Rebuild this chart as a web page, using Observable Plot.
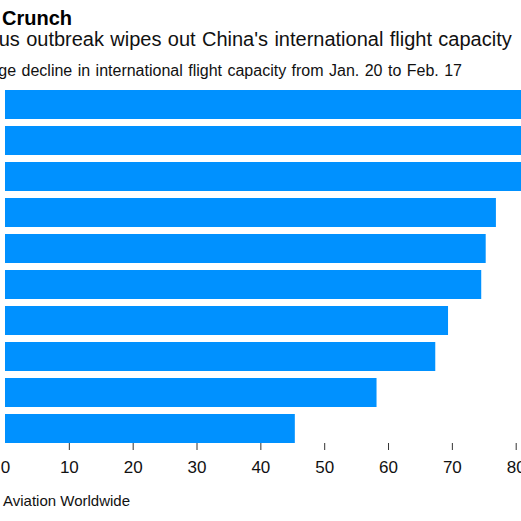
<!DOCTYPE html>
<html>
<head>
<meta charset="utf-8">
<script src="https://cdn.jsdelivr.net/npm/d3@7"></script>
<script src="https://cdn.jsdelivr.net/npm/@observablehq/plot@0.6"></script>
<style>
  html, body { margin: 0; padding: 0; background: #fff; }
  #wrap { position: relative; width: 521px; height: 521px; overflow: hidden; font-family: "Liberation Sans", Arial, sans-serif; }
  .t { position: absolute; white-space: nowrap; text-align: right; line-height: 1; color: #111; }
  #chart { position: absolute; left: 0; top: 0; }
</style>
</head>
<body>
<div id="wrap">
  <div id="chart"></div>
  <div class="t" id="title" style="font-size:20px;font-weight:bold;color:#000;top:8px;right:449px;"></div>
  <div class="t" id="subtitle" style="font-size:20px;word-spacing:0.8px;top:28.6px;right:9.3px;"></div>
  <div class="t" id="note" style="font-size:16px;word-spacing:1px;top:62.5px;right:59px;"></div>
  <div class="t" id="source" style="font-size:15px;top:493.3px;right:391px;"></div>
</div>
<script>
const titleText = "Capacity Crunch";
const subtitleText = "Coronavirus outbreak wipes out China's international flight capacity";
const noteText = "Percentage decline in international flight capacity from Jan. 20 to Feb. 17";
const sourceText = "Source: OAG Aviation Worldwide";

const categories = ["1", "2", "3", "4", "5", "6", "7", "8", "9", "10"];
const declines = [98, 95, 90, 76.9, 75.3, 74.6, 69.4, 67.4, 58.2, 45.4];
const tickLabels = [0, 10, 20, 30, 40, 50, 60, 70, 80];

document.getElementById("title").textContent = titleText;
document.getElementById("subtitle").textContent = subtitleText;
document.getElementById("note").textContent = noteText;
document.getElementById("source").textContent = sourceText;

const data = categories.map((c, i) => ({category: c, value: declines[i]}));

const chart = Plot.plot({
  width: 521,
  height: 483,
  marginTop: 90,
  marginBottom: 40,
  marginLeft: 5,
  marginRight: 5.3,
  style: {fontFamily: "Liberation Sans, Arial, sans-serif", color: "#111", background: "transparent"},
  x: {domain: [0, 80]},
  y: {domain: categories, paddingInner: 0.2, paddingOuter: 0, axis: null},
  marks: [
    Plot.barX(data, {x: "value", y: "category", fill: "#0091ff"}),
    Plot.axisX({ticks: tickLabels.filter(d => d > 0), tickSize: 7, text: null, label: null, stroke: "#333"}),
    Plot.axisX({ticks: tickLabels, tickSize: 0, tickPadding: 17, fontSize: 17, label: null, fill: "#111"})
  ]
});
document.getElementById("chart").appendChild(chart);
</script>
</body>
</html>
